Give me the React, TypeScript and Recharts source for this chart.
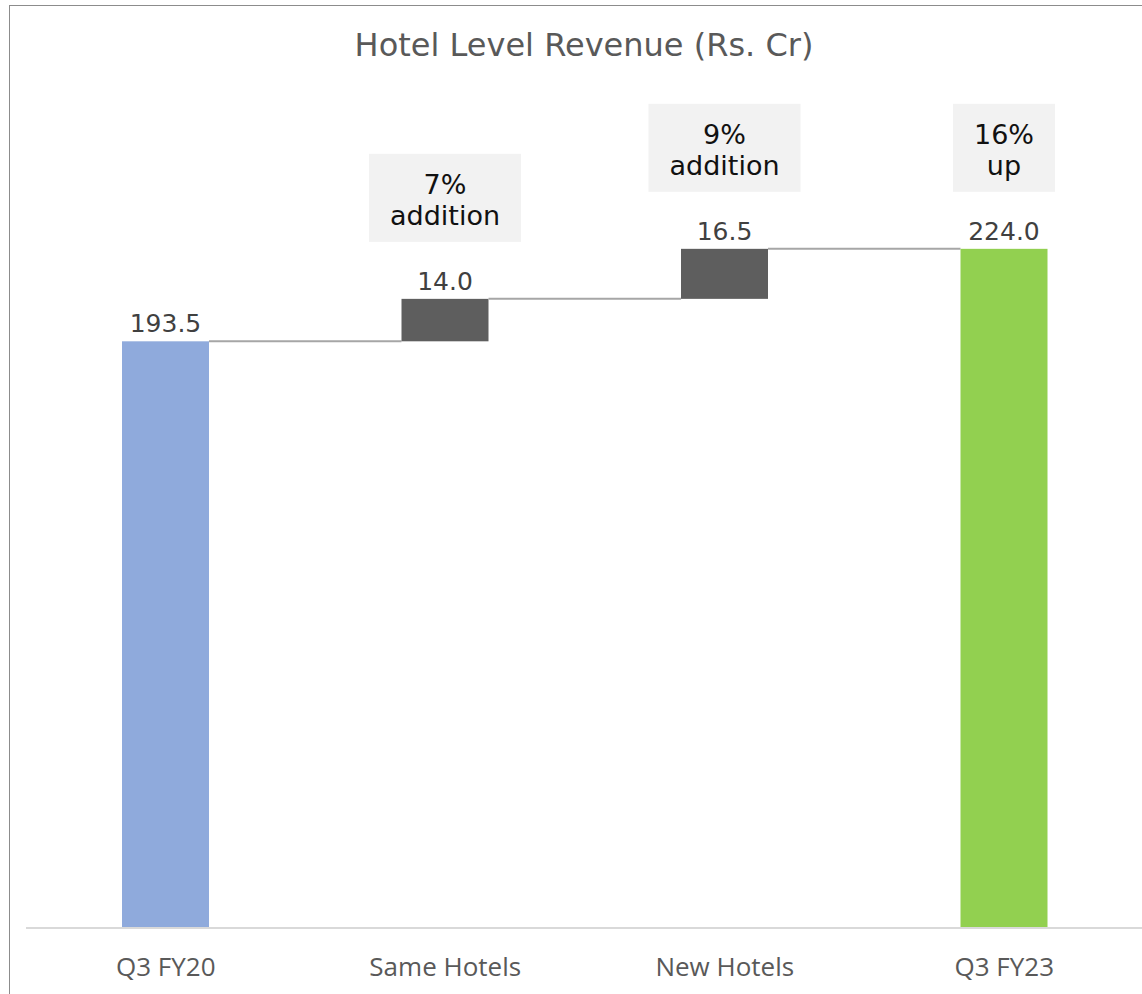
import React from "react";
import { BarChart, Bar, XAxis, YAxis, Cell, LabelList } from "recharts";

// waterfall: Hotel level revenue bridge
const categories = ["Q3 FY20", "Same Hotels", "New Hotels", "Q3 FY23"];
const amounts = [193.5, 14.0, 16.5, 224.0];
const kinds = ["total", "delta", "delta", "total"];
const callouts: string[][] = [[], ["7%", "addition"], ["9%", "addition"], ["16%", "up"]];
const barColors = ["#8FAADC", "#5E5E5E", "#5E5E5E", "#92D050"];

const W = 1160;
const H = 994;
const MARGIN = { top: 170, right: 16, left: 26, bottom: 66 };
const BAR_SIZE = 87;
const BAND = (W - MARGIN.left - MARGIN.right) / categories.length;

let running = 0;
const data = categories.map((name, i) => {
  const isTotal = kinds[i] === "total";
  const base = isTotal ? 0 : running;
  running = isTotal ? amounts[i] : running + amounts[i];
  return { name, base, amount: amounts[i] };
});

if (typeof document !== "undefined") {
  document.body.style.margin = "0";
}

const BOX_FONT = "27px 'DejaVu Sans'";
const measure = (() => {
  const c = typeof document !== "undefined" ? document.createElement("canvas") : null;
  const ctx = c ? c.getContext("2d") : null;
  return (s: string) => {
    if (!ctx) return s.length * 14;
    ctx.font = BOX_FONT;
    return ctx.measureText(s).width;
  };
})();

const WaterfallShape = (props: any) => {
  const { x, y, width, height, fill, index } = props;
  const gap = BAND - width;
  return (
    <g>
      <rect x={x} y={y} width={width} height={height} fill={fill} />
      {index < categories.length - 1 && (
        <line x1={x + width} x2={x + width + gap} y1={y} y2={y} stroke="#A6A6A6" strokeWidth={2} />
      )}
    </g>
  );
};

const ValueLabel = (props: any) => {
  const { x, y, width, value } = props;
  return (
    <text x={x + width / 2} y={y - 9} textAnchor="middle" fontFamily="'DejaVu Sans'" fontSize={25} fill="#404040">
      {Number(value).toFixed(1)}
    </text>
  );
};

const CalloutLabel = (props: any) => {
  const { x, y, width, index } = props;
  const lines = callouts[index] || [];
  if (!lines.length) return null;
  const textW = Math.max(...lines.map(measure));
  const boxW = textW + 42;
  const boxH = 88;
  const cx = x + width / 2;
  const top = y - 57 - boxH;
  return (
    <g>
      <rect x={cx - boxW / 2} y={top} width={boxW} height={boxH} fill="#F2F2F2" />
      {lines.map((t, k) => (
        <text key={k} x={cx} y={top + 40 + k * 31} textAnchor="middle" fontFamily="'DejaVu Sans'" fontSize={27} fill="#111">
          {t}
        </text>
      ))}
    </g>
  );
};

const CategoryTick = (props: any) => {
  const { x, y, payload } = props;
  return (
    <text x={x} y={y} dy={48} textAnchor="middle" fontFamily="'Open Sans'" fontSize={26} fill="#595959">
      {payload.value}
    </text>
  );
};

export default function App() {
  return (
    <div style={{ position: "relative", width: 1142, height: 994, overflow: "hidden", background: "#fff" }}>
      <div
        style={{
          position: "absolute",
          left: 9,
          top: 5,
          width: 1160,
          height: 1020,
          border: "1px solid #8C8C8C",
        }}
      />
      <svg style={{ position: "absolute", left: 0, top: 0 }} width={1142} height={80}>
        <text x={584} y={56} textAnchor="middle" fontFamily="'DejaVu Sans'" fontSize={32} fill="#595959">
          Hotel Level Revenue (Rs. Cr)
        </text>
      </svg>
      <div style={{ position: "absolute", left: 0, top: 0 }}>
        <BarChart width={W} height={H} data={data} margin={{ ...MARGIN, bottom: MARGIN.bottom - 30 }} barSize={BAR_SIZE}>
          <XAxis
            dataKey="name"
            height={30}
            tickLine={false}
            tickSize={0}
            tickMargin={0}
            axisLine={{ stroke: "#D9D9D9", strokeWidth: 2 }}
            tick={<CategoryTick />}
            interval={0}
          />
          <YAxis hide domain={[0, 250]} />
          <Bar dataKey="base" stackId="w" fill="transparent" isAnimationActive={false} />
          <Bar dataKey="amount" stackId="w" shape={<WaterfallShape />} isAnimationActive={false}>
            {data.map((d, i) => (
              <Cell key={d.name} fill={barColors[i]} />
            ))}
            <LabelList dataKey="amount" content={<ValueLabel />} />
            <LabelList dataKey="amount" content={<CalloutLabel />} />
          </Bar>
        </BarChart>
      </div>
    </div>
  );
}
